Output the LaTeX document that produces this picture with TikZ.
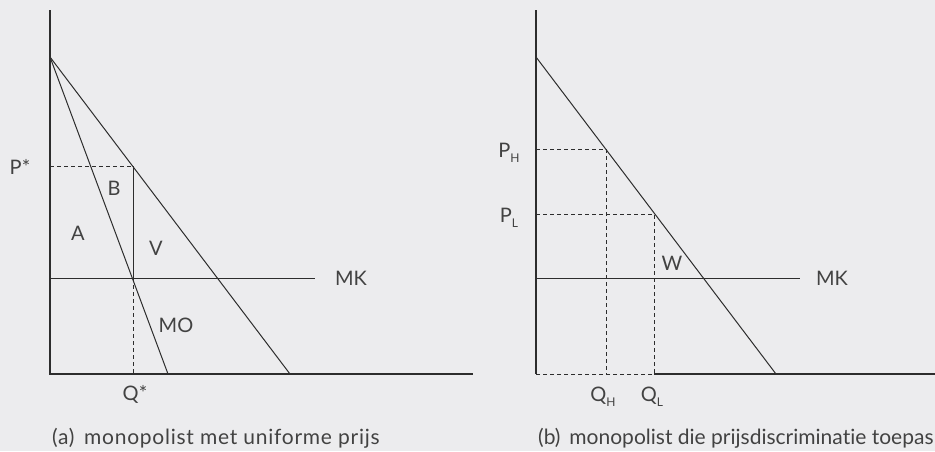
\documentclass[tikz,border=0pt]{standalone}
\usepackage{fontspec}
\setmainfont{Lato}[Ligatures=NoCommon]
\usepackage{tikz}
\usetikzlibrary{positioning}
\definecolor{bgpaper}{RGB}{236,236,238}
\definecolor{ink}{RGB}{45,45,45}
\newcommand{\lowsub}[1]{\raisebox{-5pt}{\fontsize{12}{12}\selectfont #1}}

\begin{document}
\begin{tikzpicture}[
    x=1pt, y=-1pt,
    font=\fontsize{20}{24}\selectfont,
    axis/.style={draw=ink, line width=1.1pt},
    curve/.style={draw=ink, line width=1pt},
    guide/.style={draw=ink, line width=0.9pt, dash pattern=on 4pt off 3pt},
    lbl/.style={text=ink!90, inner sep=0pt},
    caption/.style={text=ink!90, inner sep=0pt, anchor=west,
        font=\fontsize{21}{25}\selectfont}
]

% background
\fill[bgpaper] (0,0) rectangle (935,451);
\useasboundingbox (0,0) rectangle (935,451);

% first panel: uniform price
\coordinate (o1) at (50,374);
\coordinate (ytop1) at (50,10);
\coordinate (xend1) at (473,374);
\coordinate (dtop1) at (50,57);
\coordinate (dend1) at (290,374);
\coordinate (moend) at (168,374);
\coordinate (eq1) at (133,166);
\coordinate (mo1) at (133,278);
\coordinate (pstar) at (50,166);
\coordinate (qstar) at (133,374);
\coordinate (mka) at (50,278);
\coordinate (mkb) at (315,278);

\draw[guide] (pstar) -- (eq1);
\draw[guide] (mo1) -- (qstar);
\draw[curve] (eq1) -- (mo1);
\draw[curve] (mka) -- (mkb);
\draw[curve] (dtop1) -- (dend1);
\draw[curve] (dtop1) -- (moend);
\draw[axis] (ytop1) -- (o1) -- (xend1);

\node[lbl] (lpstar) at (20,167) {P*};
\node[lbl] (lqstar) at (135,394) {Q*};
\node[lbl] (la) at (78,233) {A};
\node[lbl] (lb) at (114,188) {B};
\node[lbl] (lv) at (156,248) {V};
\node[lbl] (lmo) at (176,325) {MO};
\node[lbl] (lmk1) at (351,278) {MK};
\node[caption, font=\fontsize{21}{25}\selectfont\addfontfeatures{LetterSpace=3.5}]
    (capa) at (52,438) {(a)\, monopolist met uniforme prijs};

% second panel: price discrimination
\coordinate (o2) at (536,374);
\coordinate (ytop2) at (536,10);
\coordinate (xend2) at (935,374);
\coordinate (dtop2) at (536,57);
\coordinate (dend2) at (776,374);
\coordinate (eqh) at (606,149);
\coordinate (eql) at (654,214);
\coordinate (ph) at (536,149);
\coordinate (pl) at (536,214);
\coordinate (qh) at (606,374);
\coordinate (ql) at (654,374);
\coordinate (mkc) at (536,278);
\coordinate (mkd) at (800,278);

\draw[guide] (ph) -- (eqh) -- (qh);
\draw[guide] (pl) -- (eql) -- (ql) -- (o2) -- cycle;
\draw[curve] (mkc) -- (mkd);
\draw[curve] (dtop2) -- (dend2);
\draw[axis] (ytop2) -- (o2);
\draw[axis] (ql) -- (xend2);

\node[lbl, anchor=base] (lph) at (509,157) {P\lowsub{H}};
\node[lbl, anchor=base] (lpl) at (509,222) {P\lowsub{L}};
\node[lbl, anchor=base] (lqh) at (603,401) {Q\lowsub{H}};
\node[lbl, anchor=base] (lql) at (652,401) {Q\lowsub{L}};
\node[lbl] (lw) at (672,263) {W};
\node[lbl] (lmk2) at (832,278) {MK};
\node[caption] (capb) at (538,438) {(b)\, monopolist die prijsdiscriminatie toepas};

\end{tikzpicture}
\end{document}
